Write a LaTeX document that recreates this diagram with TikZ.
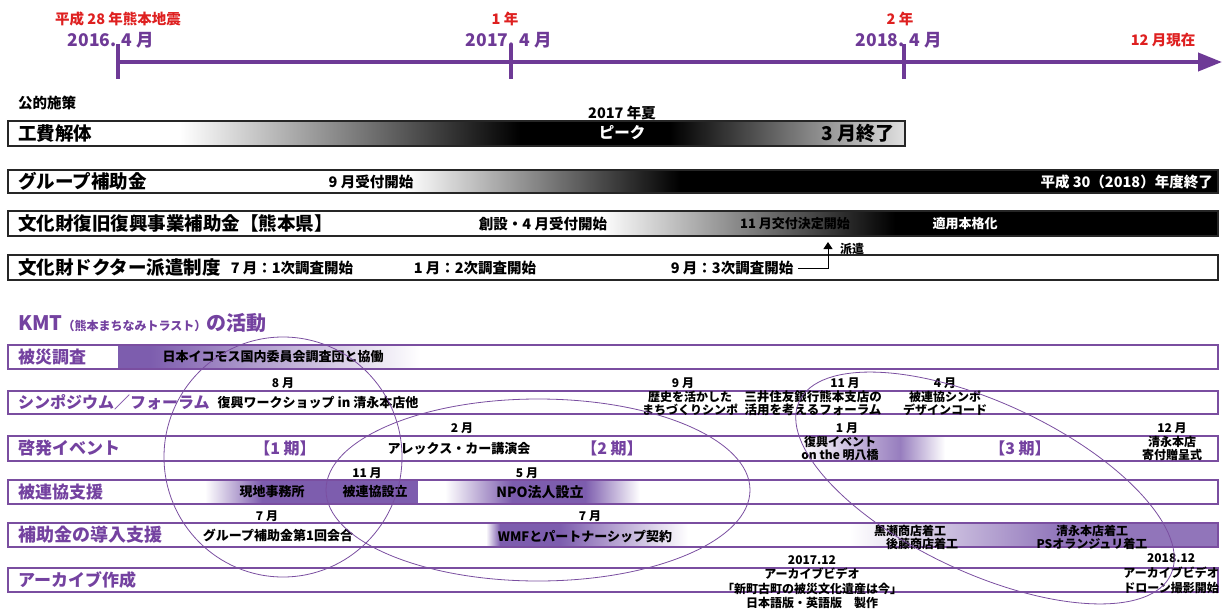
\documentclass[tikz,border=0pt]{standalone}
\usepackage{fontspec}
\setmainfont{Noto Sans CJK JP}
\usetikzlibrary{arrows.meta}
\definecolor{tlp}{RGB}{110,58,150}
\definecolor{kp}{RGB}{116,66,160}
\definecolor{bp}{RGB}{122,78,160}
\definecolor{fp}{RGB}{125,93,174}
\definecolor{rd}{RGB}{222,32,32}
\tikzset{
  lbl/.style={anchor=west,inner sep=0pt,font=\bfseries\fontsize{17}{17}\selectfont},
  plbl/.style={anchor=west,inner sep=0pt,font=\bfseries\fontsize{18.5}{18.5}\selectfont},
  klbl/.style={lbl,text=kp},
  sm/.style={inner sep=0pt,font=\bfseries\fontsize{12}{13}\selectfont},
  psm/.style={inner sep=0pt,font=\bfseries\fontsize{14.5}{15}\selectfont},
  md/.style={inner sep=0pt,font=\bfseries\fontsize{13}{14}\selectfont},
  ml/.style={inner sep=0pt,align=center,font=\bfseries\fontsize{12}{13.5}\selectfont},
  redt/.style={inner sep=0pt,text=rd,font=\bfseries\fontsize{14.5}{15}\selectfont},
  datet/.style={inner sep=0pt,text=tlp,font=\bfseries\fontsize{17.5}{18}\selectfont},
  kiki/.style={inner sep=0pt,text=kp,font=\bfseries\fontsize{16}{16}\selectfont},
  pubrow/.style={draw=black!85,line width=1.3pt},
  kmtrow/.style={draw=bp,line width=1.6pt},
  ell/.style={draw=bp,line width=0.8pt},
}
\begin{document}
\begin{tikzpicture}[x=1pt,y=-1pt]
\useasboundingbox (0,0) rectangle (1228,610);

% ---------- timeline ----------
\coordinate (t0) at (118,62);
\coordinate (tend) at (1222,62);
\draw[tlp,line width=4pt,-{Triangle[length=24pt,width=18pt]}] (t0) -- (tend);
\draw[tlp,line width=4pt] (118,44) -- (118,79);
\draw[tlp,line width=4pt] (511,44) -- (511,79);
\draw[tlp,line width=4pt] (904,44) -- (904,79);
\node[redt] (r0) at (118,19) {平成 28 年熊本地震};
\node[datet] (y0) at (111,40) {2016. 4 月};
\node[redt] (r1) at (505,19) {1 年};
\node[datet] (y1) at (509,40) {2017. 4 月};
\node[redt] (r2) at (900,19) {2 年};
\node[datet] (y2) at (899,40) {2018. 4 月};
\node[redt] (r3) at (1163,40) {12 月現在};

% ---------- public ----------
\node[anchor=west,inner sep=0pt,font=\bfseries\fontsize{14.5}{14.5}\selectfont] (pub) at (18,103) {公的施策};

% row 1
\shade[left color=white,right color=black] (180,121) rectangle (520,146);
\fill[black] (520,121) rectangle (670,146);
\shade[left color=black,right color=black!12] (670,121) rectangle (905,146);
\draw[pubrow] (8,121) rectangle (905,146);
\node[plbl] (p1) at (18,133.5) {工費解体};
\node[psm] (p1a) at (622,113) {2017 年夏};
\node[inner sep=0pt,text=white,font=\bfseries\fontsize{15.5}{15.5}\selectfont] (p1b) at (622,133) {ピーク};
\node[inner sep=0pt,font=\bfseries\fontsize{19}{19}\selectfont] (p1c) at (858,133.5) {3 月終了};

% row 2
\shade[left color=white,right color=black] (405,170) rectangle (680,193);
\fill[black] (680,170) rectangle (1218,193);
\draw[pubrow] (8,170) rectangle (1218,193);
\node[plbl] (p2) at (18,181.5) {グループ補助金};
\node[psm] (p2a) at (371,181.5) {9 月受付開始};
\node[psm,text=white,anchor=east] (p2b) at (1213,181.5) {平成 30（2018）年度終了};

% row 3
\shade[left color=white,right color=black] (600,211) rectangle (895,236);
\fill[black] (895,211) rectangle (1218,236);
\draw[pubrow] (8,211) rectangle (1218,236);
\node[plbl] (p3) at (18,223.5) {文化財復旧復興事業補助金【熊本県】};
\node[psm] (p3a) at (543,223.5) {創設・4 月受付開始};
\node[md] (p3b) at (795,223.5) {11 月交付決定開始};
\node[md,text=white] (p3c) at (965,223.5) {適用本格化};

% row 4
\draw[pubrow] (8,255) rectangle (1218,280);
\node[plbl] (p4) at (18,267.5) {文化財ドクター派遣制度};
\node[psm] (p4a) at (292,268) {7 月：1次調査開始};
\node[psm] (p4b) at (475,268) {1 月：2次調査開始};
\node[psm] (p4c) at (732,268) {9 月：3次調査開始};
\coordinate (hk) at (828,242);
\draw[line width=1pt,-{Triangle[length=7pt,width=9pt]}] ([xshift=5pt]p4c.east) -| (hk);
\node[sm,anchor=west] (p4d) at (840,249) {派遣};

% ---------- KMT ----------
\node[anchor=west,inner sep=0pt,text=kp,font=\bfseries\fontsize{20}{20}\selectfont] (kmt) at (18,323)
  {KMT{\fontsize{12}{12}\selectfont（熊本まちなみトラスト）}の活動};

% fills
\fill[fp] (118,345) rectangle (150,369);
\shade[left color=fp,right color=white] (150,345) rectangle (420,369);

\shade[left color=white,right color=fp!80] (800,436) rectangle (900,461);
\shade[left color=fp!80,right color=white] (900,436) rectangle (945,461);

\shade[left color=white,right color=fp] (205,480) rectangle (262,504);
\fill[fp] (262,480) rectangle (418,504);
\shade[left color=white,right color=fp] (445,480) rectangle (512,504);
\fill[fp] (512,480) rectangle (585,504);
\shade[left color=fp,right color=white] (585,480) rectangle (640,504);

\shade[left color=white,right color=fp] (486,523) rectangle (500,547);
\fill[fp] (500,523) rectangle (560,547);
\shade[left color=fp,right color=white] (560,523) rectangle (688,547);
\shade[left color=white,right color=fp!85] (850,523) rectangle (1060,547);
\fill[fp!85] (1060,523) rectangle (1218,547);

% borders
\draw[kmtrow] (8,345) rectangle (1218,369);
\draw[kmtrow] (8,391) rectangle (1218,414);
\draw[kmtrow] (8,436) rectangle (1218,461);
\draw[kmtrow] (8,480) rectangle (1218,504);
\draw[kmtrow] (8,523) rectangle (1218,547);
\draw[kmtrow] (8,568) rectangle (1218,592);

% row A
\node[klbl] (ka) at (18,357) {被災調査};
\node[md] (ka1) at (273,357) {日本イコモス国内委員会調査団と協働};
% row B
\node[klbl,font=\bfseries\fontsize{16}{16}\selectfont] (kb) at (18,402.5) {シンポジウム／フォーラム};
\node[sm] (kb1m) at (283,383) {8 月};
\node[md] (kb1) at (318,403) {復興ワークショップ in 清永本店他};
\node[sm] (kb2m) at (683,383) {9 月};
\node[ml] (kb2) at (690,403.5) {歴史を活かした\\まちづくりシンポ};
\node[sm] (kb3m) at (845,383) {11 月};
\node[ml,font=\bfseries\fontsize{12.5}{13.5}\selectfont] (kb3) at (813,403.5) {三井住友銀行熊本支店の\\活用を考えるフォーラム};
\node[sm] (kb4m) at (945,383) {4 月};
\node[ml] (kb4) at (945,403.5) {被連協シンポ\\デザインコード};
% row C
\node[klbl] (kc) at (18,448.5) {啓発イベント};
\node[kiki] (kc1) at (285,448.5) {【1 期】};
\node[sm] (kc2m) at (462,428) {2 月};
\node[md] (kc2) at (459,448.5) {アレックス・カー講演会};
\node[kiki] (kc3) at (612,448.5) {【2 期】};
\node[sm] (kc4m) at (847,428) {1 月};
\node[ml] (kc4) at (840,448.5) {復興イベント\\on the 明八橋};
\node[kiki] (kc5) at (1020,448.5) {【3 期】};
\node[sm] (kc6m) at (1172,428) {12 月};
\node[ml] (kc6) at (1172,448.5) {清永本店\\寄付贈呈式};
% row D
\node[klbl] (kd) at (18,492) {被連協支援};
\node[md] (kd1) at (272,492) {現地事務所};
\node[sm] (kd2m) at (367,473) {11 月};
\node[md] (kd2) at (375,492) {被連協設立};
\node[sm] (kd3m) at (527,473) {5 月};
\node[inner sep=0pt,font=\bfseries\fontsize{14}{14}\selectfont] (kd3) at (540,492) {NPO法人設立};
% row E
\node[klbl,font=\bfseries\fontsize{18}{18}\selectfont] (ke) at (18,535) {補助金の導入支援};
\node[sm] (ke1m) at (267,516) {7 月};
\node[md] (ke1) at (278,535) {グループ補助金第1回会合};
\node[sm] (ke2m) at (590,516) {7 月};
\node[md] (ke2) at (585,537) {WMFとパートナーシップ契約};
\node[ml] (ke3) at (910,537.5) {黒瀬商店着工\\\hspace*{2em}後藤商店着工};
\node[ml] (ke4) at (1092,537.5) {清永本店着工\\PSオランジュリ着工};
% row F
\node[klbl] (kf) at (18,580) {アーカイブ作成};
\node[ml,font=\bfseries\fontsize{12}{14.4}\selectfont] (kf1) at (812,582) {2017.12\\アーカイブビデオ\\「新町古町の被災文化遺産は今」\\日本語版・英語版　製作};
\node[ml,anchor=north east,font=\bfseries\fontsize{12}{15}\selectfont] (kf2) at (1219,553) {2018.12\\アーカイブビデオ\\ドローン撮影開始};

% ellipses
\draw[ell] (283,457) ellipse [x radius=119, y radius=120];
\draw[ell] (538,490) ellipse [x radius=212, y radius=91];
\draw[ell,rotate around={-25:(985,488)}] (985,488) ellipse [x radius=205, y radius=85];
\end{tikzpicture}
\end{document}
